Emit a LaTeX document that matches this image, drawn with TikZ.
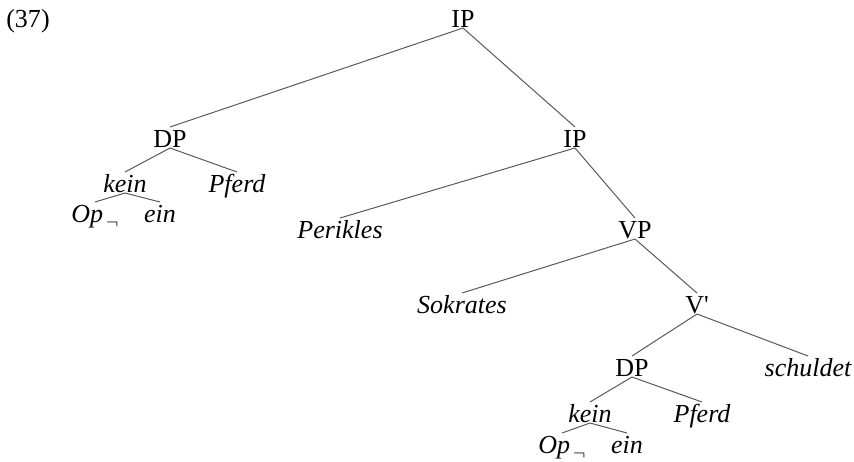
\documentclass[tikz,border=0pt]{standalone}
\usepackage{fontspec}
\setmainfont{Liberation Serif}
\newcommand{\opneg}{Op\kern1.5pt\raisebox{-3pt}{$\scriptstyle\neg$}}
\begin{document}
\begin{tikzpicture}[x=0.5pt,y=-0.5pt,
  every node/.style={font=\fontsize{13}{15}\selectfont, inner sep=0pt,
    outer xsep=0pt, outer ysep=0.5pt, text height=9.5pt, text depth=0pt, anchor=base},
  cat/.style={},
  word/.style={font=\fontsize{13}{15}\selectfont\itshape},
  branch/.style={draw=black!65, line width=0.5pt}]
\useasboundingbox (0,0) rectangle (854,461);

% example number
\node (num) at (28,27) {(37)};

% top clause
\node[cat]  (ip1) at (463,27) {IP};
\node[cat]  (dp1) at (170,147) {DP};
\node[word] (kein1) at (125,192) {kein};
\node[word] (pferd1) at (237,192) {Pferd};
\node[word] (op1) at (95,222) {\opneg};
\node[word] (ein1) at (160,222) {ein};

\node[cat]  (ip2) at (575,147) {IP};
\node[word] (perikles) at (340,238) {Perikles};
\node[cat]  (vp) at (635,238) {VP};
\node[word] (sokrates) at (462,313) {Sokrates};
\node[cat]  (vbar) at (697,313) {V\textquotesingle};
\node[cat]  (dp2) at (632,376) {DP};
\node[word] (schuldet) at (808,376) {schuldet};
\node[word] (kein2) at (590,422) {kein};
\node[word] (pferd2) at (702,422) {Pferd};
\node[word] (op2) at (562,453) {\opneg};
\node[word] (ein2) at (627,453) {ein};

% branches
\draw[branch] (ip1.south) -- (dp1.north);
\draw[branch] (ip1.south) -- (ip2.north);
\draw[branch] (dp1.south) -- (kein1.north);
\draw[branch] (dp1.south) -- (pferd1.north);
\draw[branch] (kein1.south) -- (op1.north);
\draw[branch] (kein1.south) -- (ein1.north);
\draw[branch] (ip2.south) -- (perikles.north);
\draw[branch] (ip2.south) -- (vp.north);
\draw[branch] (vp.south) -- (sokrates.north);
\draw[branch] (vp.south) -- (vbar.north);
\draw[branch] (vbar.south) -- (dp2.north);
\draw[branch] (vbar.south) -- (schuldet.north);
\draw[branch] (dp2.south) -- (kein2.north);
\draw[branch] (dp2.south) -- (pferd2.north);
\draw[branch] (kein2.south) -- (op2.north);
\draw[branch] (kein2.south) -- (ein2.north);
\end{tikzpicture}
\end{document}
